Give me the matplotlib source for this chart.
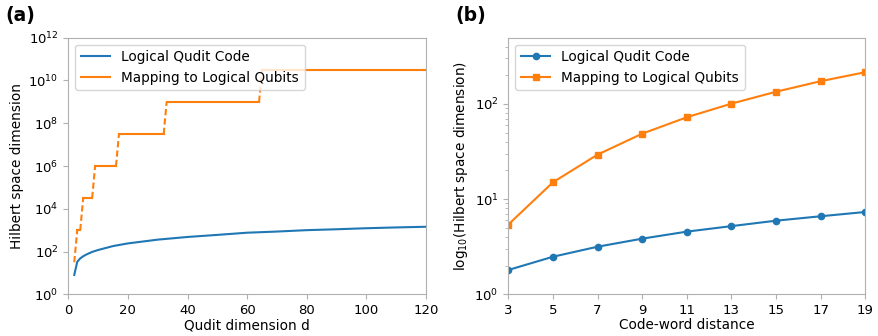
import numpy as np
import matplotlib
matplotlib.use("Agg")
import matplotlib.pyplot as plt

# panel (a): Hilbert space dimension vs qudit dimension d
d_qudit = [2, 3, 4, 5, 6, 8, 10, 15, 20, 30, 40, 50, 60, 70, 80, 90, 100, 110, 120]
dim_qudit = [8, 33, 48, 60, 72, 96, 118, 180, 240, 360, 480, 600, 760, 860, 1000, 1100, 1230, 1340, 1440]

# staircase for mapping to qubits: plateau start/end in d and level
step_start = [2, 3, 5, 9, 17, 33, 65]
step_end = [2, 4, 8, 16, 32, 64, 120]
step_level = [10**1.5, 10**3.0, 10**4.5, 10**6.0, 10**7.5, 10**9.0, 10**10.5]

# panel (b): log10 of dimension vs code-word distance
distance = [3, 5, 7, 9, 11, 13, 15, 17, 19]
log_qudit = [1.8, 2.48, 3.16, 3.84, 4.55, 5.2, 5.93, 6.6, 7.32]
log_qubit = [5.4, 15.0, 29.3, 48.6, 72.3, 100.5, 134, 173, 215]

BLUE = "#1f77b4"
ORANGE = "#ff7f0e"
SPINE = "#b0b0b0"

plt.rcParams['font.family'] = ['DejaVu Sans']
plt.rcParams['font.size'] = 9.5

fig = plt.figure(figsize=(8.79, 3.36), dpi=100)
ax1 = fig.add_axes([68.3/879, 1-294.3/336, (426-68.3)/879, (294.3-37.7)/336])
ax2 = fig.add_axes([508.3/879, 1-294.3/336, (865.3-508.3)/879, (294.3-37.7)/336])

def style(ax):
    for s in ax.spines.values():
        s.set_color(SPINE)
    ax.tick_params(which='both', color=SPINE, labelsize=9.5)

# (a)
ax1.plot(d_qudit, dim_qudit, color=BLUE, lw=1.5, label='Logical Qudit Code')
for i in range(len(step_level)):
    lab = 'Mapping to Logical Qubits' if i == 0 else None
    ax1.plot([step_start[i], step_end[i]], [step_level[i], step_level[i]],
             color=ORANGE, lw=1.5, label=lab)
    if i + 1 < len(step_level):
        ax1.plot([step_end[i], step_start[i+1]], [step_level[i], step_level[i+1]],
                 color=ORANGE, lw=1.5, ls=(0, (3, 1.5)))
ax1.set_yscale('log')
ax1.set_xlim(0, 120)
ax1.set_ylim(1, 1e12)
ax1.set_yticks([10.0**k for k in range(0, 13, 2)])
ax1.yaxis.set_minor_locator(matplotlib.ticker.NullLocator())
ax1.set_xlabel('Qudit dimension d', fontsize=9.8, labelpad=1)
ax1.set_ylabel('Hilbert space dimension', fontsize=9.8, labelpad=3)
ax1.legend(loc='upper left', fontsize=9.8, handlelength=2.2)
style(ax1)

# (b)
ax2.plot(distance, log_qudit, color=BLUE, lw=1.5, marker='o', ms=4.5, label='Logical Qudit Code')
ax2.plot(distance, log_qubit, color=ORANGE, lw=1.5, marker='s', ms=4.5, label='Mapping to Logical Qubits')
ax2.set_yscale('log')
ax2.set_xlim(3, 19)
ax2.set_ylim(1, 495)
ax2.set_xticks(distance)
ax2.set_xlabel('Code-word distance', fontsize=9.8, labelpad=1)
ax2.set_ylabel('log$_{10}$(Hilbert space dimension)', fontsize=9.8, labelpad=3)
ax2.legend(loc='upper left', fontsize=9.8, handlelength=2.2)
style(ax2)

fig.text(5/879, 1-16/336, '(a)', fontsize=13.5, fontweight='bold', va='center')
fig.text(455/879, 1-16/336, '(b)', fontsize=13.5, fontweight='bold', va='center')

fig.savefig('out.png', dpi=100)
